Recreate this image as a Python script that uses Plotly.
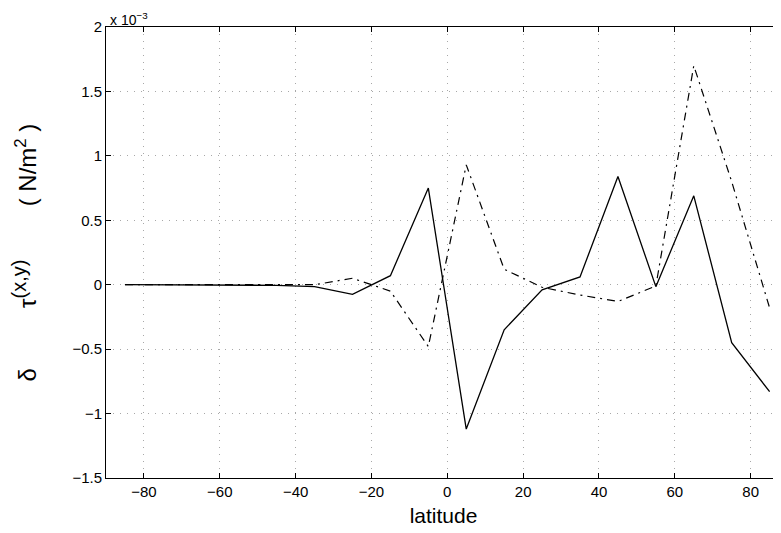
import plotly.graph_objects as go

# latitude (deg) and stress differences (units of 1e-3 N/m^2)
latitude = [-85, -75, -65, -55, -45, -35, -25, -15, -5, 5, 15, 25, 35, 45, 55, 65, 75, 85]
delta_tau_x = [0, 0, 0, 0, -0.005, -0.015, -0.075, 0.07, 0.75, -1.12, -0.35, -0.04, 0.06, 0.84, -0.015, 0.69, -0.45, -0.83]
delta_tau_y = [0, 0, 0, 0, 0, 0.0, 0.05, -0.05, -0.48, 0.93, 0.12, -0.02, -0.08, -0.13, -0.01, 1.70, 0.80, -0.18]

x_ticks = [-80, -60, -40, -20, 0, 20, 40, 60, 80]
x_ticktext = ["−80", "−60", "−40", "−20", "0", "20", "40", "60", "80"]
y_ticks = [-1.5, -1, -0.5, 0, 0.5, 1, 1.5, 2]
y_ticktext = ["−1.5", "−1", "−0.5", "0", "0.5", "1", "1.5", "2"]

FONT = "Liberation Sans, Arial, Helvetica, sans-serif"
xr = [-90, 88.0]
GRID = dict(showgrid=True, gridcolor="#a8a8a8", griddash="1px,6px", gridwidth=1)

fig = go.Figure()
fig.add_trace(go.Scatter(x=latitude, y=delta_tau_x, mode="lines",
                         line=dict(color="black", width=1.3), showlegend=False))
fig.add_trace(go.Scatter(x=latitude, y=delta_tau_y, mode="lines",
                         line=dict(color="black", width=1.2, dash="8px,5px,2px,5px"), showlegend=False))
# invisible trace to anchor top axis
fig.add_trace(go.Scatter(x=[xr[0]], y=[0], xaxis="x2", mode="markers",
                         marker=dict(opacity=0), showlegend=False, hoverinfo="skip"))

# page body has an 8px default margin, so the figure is sized/offset to fit the window
fig.update_layout(
    width=773, height=525,
    margin=dict(l=98, r=0, t=19, b=55),
    paper_bgcolor="white", plot_bgcolor="white",
    font=dict(family=FONT, color="black", size=14),
    xaxis=dict(range=xr, tickvals=x_ticks, ticktext=x_ticktext, automargin=False,
               ticks="inside", ticklen=5, tickcolor="black",
               showline=True, linecolor="black", linewidth=1,
               zeroline=False, tickfont=dict(size=15), **GRID,
               title=dict(text="latitude", font=dict(size=21), standoff=9)),
    xaxis2=dict(range=xr, overlaying="x", side="top", tickvals=x_ticks, automargin=False,
                ticks="inside", ticklen=5, tickcolor="black",
                showline=True, linecolor="black", linewidth=1,
                showticklabels=False, showgrid=False, zeroline=False),
    yaxis=dict(range=[-1.5, 2], tickvals=y_ticks, ticktext=y_ticktext, automargin=False,
               ticks="inside", ticklen=5, tickcolor="black",
               showline=True, linecolor="black", linewidth=1,
               zeroline=False, tickfont=dict(size=15), **GRID,
               title=dict(text="δ         τ<sup><span style='font-size:20px'>(x,y)</span></sup>"
                               "        ( N/m<sup>2</sup> )",
                          font=dict(size=24), standoff=28)),
)

fig.add_annotation(text="x 10<sup>−3</sup>", xref="paper", yref="paper",
                   x=0.0, y=1.0, xanchor="left", yanchor="bottom",
                   showarrow=False, font=dict(size=14), xshift=2, yshift=-3)

fig.write_html("out.html")
